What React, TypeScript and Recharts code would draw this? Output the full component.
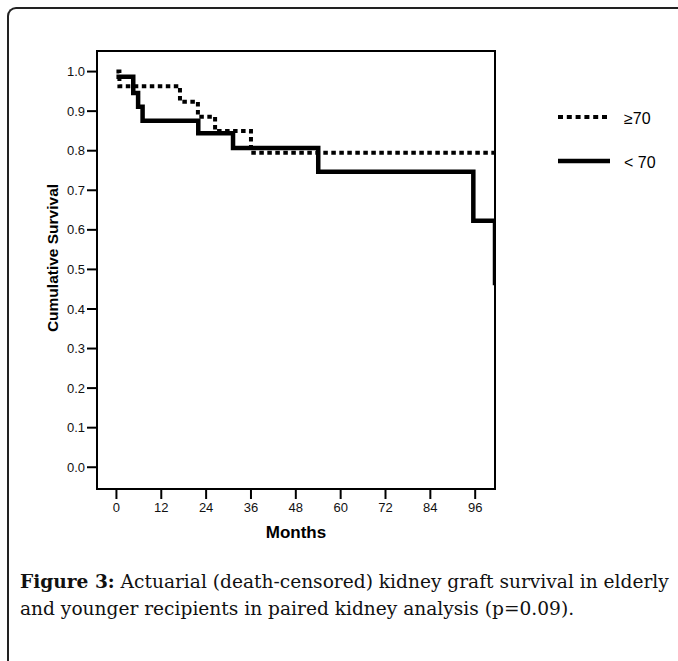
import React from 'react';
import { LineChart, Line, XAxis, YAxis, ReferenceArea } from 'recharts';

// ---- data ----
const monthTicks = [0, 12, 24, 36, 48, 60, 72, 84, 96];
const survivalTicks = [0, 0.1, 0.2, 0.3, 0.4, 0.5, 0.6, 0.7, 0.8, 0.9, 1.0];

const olderMonths = [0, 0.8, 17, 21.8, 26.4, 36, 101.3];
const olderSurvival = [1.0, 0.963, 0.924, 0.886, 0.85, 0.795, 0.795];

const youngerMonths = [0, 4.5, 5.8, 7, 21.9, 31.2, 54, 95.5, 101.3];
const youngerSurvival = [0.987, 0.946, 0.911, 0.876, 0.844, 0.807, 0.747, 0.623, 0.46];

const seriesLabels = ['\u226570', '< 70'];
const xTitle = 'Months';
const yTitle = 'Cumulative Survival';
const captionBold = 'Figure 3:';
const captionLine1 = ' Actuarial (death-censored) kidney graft survival in elderly';
const captionLine2 = 'and younger recipients in paired kidney analysis (p=0.09).';

const xDomain = [-5.2, 101.3];
const yDomain = [-0.055, 1.052];

const olderData = olderMonths.map((m, i) => ({ month: m, survival: olderSurvival[i] }));
const youngerData = youngerMonths.map((m, i) => ({ month: m, survival: youngerSurvival[i] }));

const sans = '"Liberation Sans", Arial, sans-serif';
const serif = '"DejaVu Serif", serif';

export default function App() {
  return (
    <div style={{ position: 'absolute', left: 0, top: 0, width: 678, height: 661, overflow: 'hidden', background: '#fff' }}>
      <div
        style={{
          position: 'absolute',
          left: 7,
          top: 7,
          width: 720,
          height: 720,
          borderLeft: '2px solid #222',
          borderTop: '2px solid #222',
          borderTopLeftRadius: 9,
        }}
      />
      <div style={{ position: 'absolute', left: 0, top: 0 }}>
        <LineChart
          width={678}
          height={560}
          margin={{ top: 51, right: 183, bottom: 41, left: 37 }}
        >
          <XAxis
            type="number"
            dataKey="month"
            domain={xDomain}
            ticks={monthTicks}
            allowDataOverflow
            height={30}
            tickSize={10}
            tickMargin={4}
            stroke="#000"
            axisLine={{ stroke: '#000', strokeWidth: 2 }}
            tickLine={{ stroke: '#000', strokeWidth: 2 }}
            tick={{ fill: '#111', fontSize: 13, fontFamily: sans }}
          />
          <YAxis
            type="number"
            dataKey="survival"
            domain={yDomain}
            ticks={survivalTicks}
            allowDataOverflow
            width={60}
            tickSize={10}
            tickMargin={2}
            tickFormatter={(v: number) => v.toFixed(1)}
            axisLine={{ stroke: '#000', strokeWidth: 2 }}
            tickLine={{ stroke: '#000', strokeWidth: 2 }}
            tick={{ fill: '#111', fontSize: 13, fontFamily: sans }}
          />
          <ReferenceArea
            x1={xDomain[0]}
            x2={xDomain[1]}
            y1={yDomain[0]}
            y2={yDomain[1]}
            fill="none"
            stroke="#000"
            strokeWidth={2}
            ifOverflow="visible"
          />
          <Line
            data={olderData}
            dataKey="survival"
            type="stepAfter"
            stroke="#000"
            strokeWidth={4}
            strokeDasharray="4.5 3.5"
            dot={false}
            activeDot={false}
            isAnimationActive={false}
          />
          <Line
            data={youngerData}
            dataKey="survival"
            type="stepAfter"
            stroke="#000"
            strokeWidth={4.5}
            dot={false}
            activeDot={false}
            isAnimationActive={false}
          />
        </LineChart>
      </div>
      <svg width={678} height={661} style={{ position: 'absolute', left: 0, top: 0, pointerEvents: 'none' }}>
        <text
          x={296}
          y={532}
          textAnchor="middle"
          dominantBaseline="central"
          fontFamily={sans}
          fontWeight="bold"
          fontSize={17}
          fill="#000"
        >
          {xTitle}
        </text>
        <text
          x={52}
          y={258}
          textAnchor="middle"
          dominantBaseline="central"
          fontFamily={sans}
          fontWeight="bold"
          fontSize={15.5}
          fill="#000"
          transform="rotate(-90 52 258)"
        >
          {yTitle}
        </text>
        <line x1={558} y1={117} x2={610} y2={117} stroke="#000" strokeWidth={4} strokeDasharray="5 3.8" />
        <text x={624} y={118} dominantBaseline="central" fontFamily={sans} fontSize={16} fill="#000">
          {seriesLabels[0]}
        </text>
        <line x1={558} y1={161} x2={610} y2={161} stroke="#000" strokeWidth={4.5} />
        <text x={624} y={162} dominantBaseline="central" fontFamily={sans} fontSize={16} fill="#000">
          {seriesLabels[1]}
        </text>
      </svg>
      <div
        style={{
          position: 'absolute',
          left: 20,
          top: 568,
          width: 680,
          fontFamily: serif,
          fontSize: 18.6,
          lineHeight: '27px',
          color: '#111',
          whiteSpace: 'nowrap',
        }}
      >
        <div>
          <b>{captionBold}</b>
          {captionLine1}
        </div>
        <div>{captionLine2}</div>
      </div>
    </div>
  );
}
